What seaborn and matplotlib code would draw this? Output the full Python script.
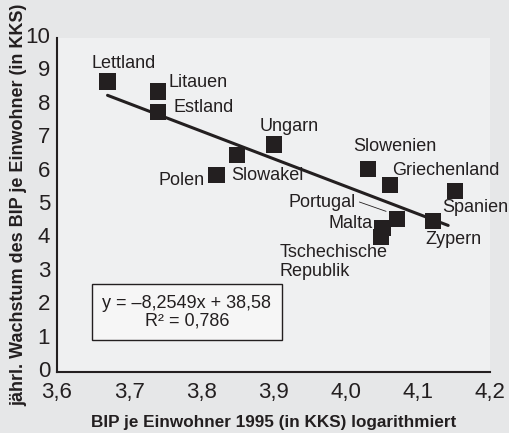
import pandas as pd
import matplotlib.pyplot as plt
import matplotlib.transforms as mtransforms
import seaborn as sns

sns.set_style("white")
plt.rcParams['font.family'] = ['Liberation Sans', 'DejaVu Sans']

# Data
countries = ["Lettland", "Litauen", "Estland", "Slowakei", "Polen", "Ungarn",
             "Slowenien", "Griechenland", "Spanien", "Portugal", "Malta",
             "Tschechische Republik", "Zypern"]
bip_log = [3.670, 3.740, 3.740, 3.850, 3.821, 3.901,
           4.031, 4.061, 4.151, 4.071, 4.051, 4.049, 4.121]
wachstum = [8.70, 8.40, 7.78, 6.51, 5.91, 6.81,
            6.09, 5.59, 5.41, 4.59, 4.31, 4.04, 4.51]

# Label placement (x, y, horizontal alignment, text)
labels = [
    (3.692, 9.23, "center", "Lettland"),
    (3.755, 8.68, "left", "Litauen"),
    (3.761, 7.93, "left", "Estland"),
    (3.841, 5.89, "left", "Slowakei"),
    (3.805, 5.74, "right", "Polen"),
    (3.922, 7.34, "center", "Ungarn"),
    (4.068, 6.74, "center", "Slowenien"),
    (4.064, 6.04, "left", "Griechenland"),
    (4.179, 4.94, "center", "Spanien"),
    (4.014, 5.07, "right", "Portugal"),
    (4.037, 4.46, "right", "Malta"),
    (3.908, 3.29, "left", "Tschechische\nRepublik"),
    (4.149, 3.97, "center", "Zypern"),
]

slope, intercept = -8.2549, 38.58
trend_x = [3.67, 4.142]

df = pd.DataFrame({"land": countries, "x": bip_log, "y": wachstum})
trend = pd.DataFrame({"x": trend_x, "y": [slope * v + intercept for v in trend_x]})

ink = "#231f20"
fig = plt.figure(figsize=(5.10, 4.33), dpi=100, facecolor="#e6e7e8")
ax = fig.add_axes([0.1118, 0.1409, 0.8490, 0.7713])
ax.set_facecolor("#eff0f1")

sns.lineplot(data=trend, x="x", y="y", color=ink, linewidth=2.2, ax=ax)
sns.scatterplot(data=df, x="x", y="y", marker="s", s=135, color=ink,
                edgecolor="none", ax=ax, zorder=3)

for lx, ly, ha, txt in labels:
    ax.text(lx, ly, txt, ha=ha, va="center", fontsize=13, color=ink,
            linespacing=1.1)

# leader line for Portugal
ax.plot([4.019, 4.056], [5.09, 4.81], color=ink, linewidth=0.6)

ax.text(3.780, 1.79, "y = \u20138,2549x + 38,58\nR\u00b2 = 0,786", ha="center", va="center",
        fontsize=13, color=ink, linespacing=1.0,
        bbox=dict(boxstyle="square,pad=0.6", facecolor="#f6f6f6", edgecolor=ink,
                  linewidth=1.0))

ax.set_xlim(3.6, 4.2)
ax.set_ylim(0, 10)
ax.set_xticks([3.6, 3.7, 3.8, 3.9, 4.0, 4.1, 4.2])
ax.set_xticklabels(["3,6", "3,7", "3,8", "3,9", "4,0", "4,1", "4,2"])
ax.set_yticks(range(0, 11))
ax.tick_params(axis="x", direction="in", length=6, width=1.2, labelsize=16, pad=7, color=ink,
               labelcolor=ink)
ax.tick_params(axis="y", direction="in", length=8, width=1.2, labelsize=16, pad=5, color=ink,
               labelcolor=ink)

# y tick labels sit slightly above their ticks
shift = mtransforms.ScaledTranslation(0, 0.03, fig.dpi_scale_trans)
for lab in ax.get_yticklabels():
    lab.set_transform(lab.get_transform() + shift)

for side in ["top", "right"]:
    ax.spines[side].set_visible(False)
for side in ["left", "bottom"]:
    ax.spines[side].set_color(ink)
    ax.spines[side].set_linewidth(1.5)

ax.set_xlabel("BIP je Einwohner 1995 (in KKS) logarithmiert", fontsize=12.3,
              fontweight="bold", color=ink)
ax.set_ylabel("jährl. Wachstum des BIP je Einwohner (in KKS)", fontsize=13,
              fontweight="bold", color=ink)
ax.xaxis.set_label_coords(0.5, -0.13)
ax.yaxis.set_label_coords(-0.068, 0.5)

fig.savefig("out.png", dpi=100, facecolor=fig.get_facecolor())
